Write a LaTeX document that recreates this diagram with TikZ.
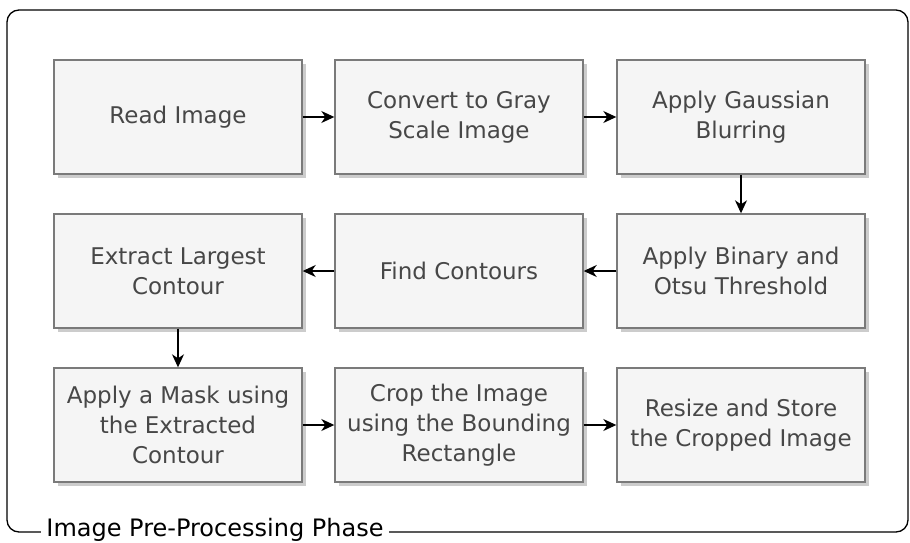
\documentclass[tikz,border=0pt]{standalone}
\usepackage{fontspec}
\setmainfont{DejaVu Sans}
\usetikzlibrary{arrows.meta,shadows}

\begin{document}
\begin{tikzpicture}[x=1pt,y=-1pt]
	\tikzstyle{stepbox}=[rectangle,draw=black!52,line width=1.4pt,fill=black!4,text=black!72,minimum width=248pt,minimum height=114pt,align=center,font=\fontsize{23}{30}\selectfont,drop shadow={shadow xshift=4pt,shadow yshift=-4pt,fill=black!20,opacity=1}]
	\tikzstyle{flow}=[line width=1.4pt,-{Stealth[length=13pt,width=12pt,inset=4pt]}]
	\useasboundingbox (0,0) rectangle (910,543);
	% outer frame
	\draw[line width=1.3pt,rounded corners=12pt] (7,10) rectangle (908,532);
	\node[fill=white,inner xsep=5pt,inner ysep=0pt,anchor=base,font=\fontsize{24}{30}\selectfont](phase) at (215,536.5){Image Pre-Processing Phase};

	\node[stepbox](s1) at (178,117){Read Image};
	\node[stepbox](s2) at (459,117){Convert to Gray\\Scale Image};
	\node[stepbox](s3) at (741,117){Apply Gaussian\\Blurring};
	\node[stepbox](s4) at (741,271){Apply Binary and\\Otsu Threshold};
	\node[stepbox](s5) at (459,271){Find Contours};
	\node[stepbox](s6) at (178,271){Extract Largest\\Contour};
	\node[stepbox](s7) at (178,425){Apply a Mask using\\the Extracted\\Contour};
	\node[stepbox](s8) at (459,425){Crop the Image\\using the Bounding\\Rectangle};
	\node[stepbox](s9) at (741,425){Resize and Store\\the Cropped Image};
	\path[flow]
		(s1) edge (s2)
		(s2) edge (s3)
		(s3) edge (s4)
		(s4) edge (s5)
		(s5) edge (s6)
		(s6) edge (s7)
		(s7) edge (s8)
		(s8) edge (s9);
\end{tikzpicture}
\end{document}
